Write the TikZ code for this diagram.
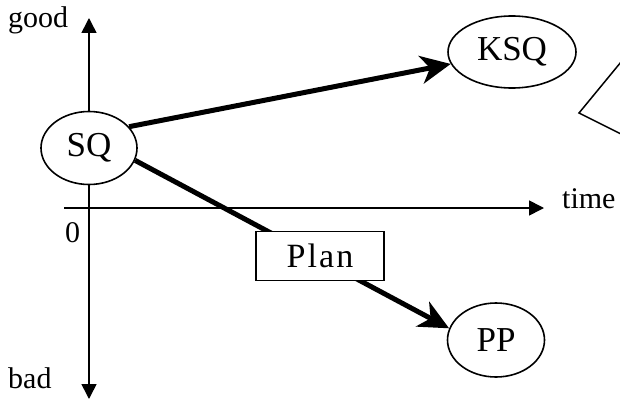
\documentclass[tikz,border=0pt]{standalone}
\usepackage{fontspec}
\setmainfont{Liberation Serif}
\usetikzlibrary{arrows.meta,shapes.geometric}
\begin{document}
\begin{tikzpicture}[x=1pt,y=1pt,
  axis/.style={line width=1.6pt,-{Triangle[length=15pt,width=15pt]}},
  thickarrow/.style={line width=5pt,-{Stealth[length=30pt,width=28pt,inset=9pt]}},
  state/.style={ellipse,draw,fill=white,line width=1.6pt,inner sep=0pt,font=\fontsize{35}{40}\selectfont},
  lbl/.style={inner sep=0pt,anchor=base west,font=\fontsize{30}{34}\selectfont},
  planbox/.style={rectangle,draw,fill=white,line width=1.4pt,inner sep=0pt,minimum width=128pt,minimum height=49pt,font=\fontsize{34}{40}\selectfont\addfontfeatures{LetterSpace=6}}]
\useasboundingbox (0,0) rectangle (620,-401);
% axes
\coordinate (ytop) at (89,-18);
\coordinate (ybot) at (89,-399);
\coordinate (xleft) at (64,-208);
\coordinate (xright) at (544,-208);
\coordinate (yorigin) at (89,-208);
\draw[axis] (yorigin) -- (ytop);
\draw[axis] (yorigin) -- (ybot);
\draw[line width=1.6pt] (xleft) -- (yorigin);
\draw[axis] (yorigin) -- (xright);
% labels
\node[lbl] (good) at (8,-28) {good};
\node[lbl] (bad) at (8,-388) {bad};
\node[lbl] (time) at (562,-208) {time};
\node[lbl] (zero) at (65,-242) {0};
% states
\node[state,minimum width=96pt,minimum height=73pt] (SQ) at (89,-148) {SQ};
\node[state,minimum width=128pt,minimum height=72pt] (KSQ) at (512,-52) {KSQ};
\node[state,minimum width=97pt,minimum height=74pt] (PP) at (496,-340) {PP};
% arrows
\draw[thickarrow] (SQ.28) -- (KSQ);
\draw[thickarrow] (SQ.-15) -- (PP.166);
\node[planbox] (plan) at (320,-256) {Plan};
% partial shape at right edge
\coordinate (t1) at (621,-62);
\coordinate (t2) at (579,-113);
\coordinate (t3) at (621,-134);
\draw[line width=1.5pt] (t1) -- (t2) -- (t3);
\end{tikzpicture}
\end{document}
